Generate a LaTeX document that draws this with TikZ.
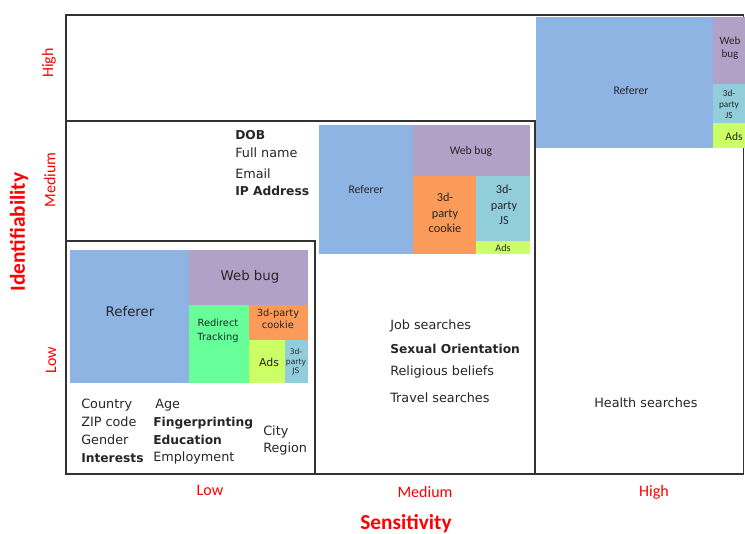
\documentclass[tikz,border=0pt]{standalone}
\usepackage{fontspec}
\setmainfont{DejaVu Sans}
\newfontfamily\calfont{Carlito}
\usetikzlibrary{positioning}
\definecolor{referer}{RGB}{141,180,226}
\definecolor{webbug}{RGB}{178,161,199}
\definecolor{cookie}{RGB}{250,155,90}
\definecolor{jsblue}{RGB}{146,205,220}
\definecolor{adsgreen}{RGB}{204,255,102}
\definecolor{redirect}{RGB}{102,255,153}

\begin{document}
\begin{tikzpicture}[
    x=0.75pt, y=-0.75pt,
    every node/.style={inner sep=0pt, text=black!85},
    item/.style={font=\fontsize{9.6}{11}\selectfont, anchor=west},
    bolditem/.style={font=\fontsize{9.2}{11}\selectfont\bfseries, anchor=west},
    tile/.style={align=center},
    axis/.style={text=red, font=\calfont\fontsize{12}{14}\selectfont},
    axistitle/.style={text=red, font=\calfont\bfseries\fontsize{16}{18}\selectfont},
    frame/.style={draw=black!80, line width=1.1pt},
]
\useasboundingbox (0,0) rectangle (745,534);
\begin{scope}
\clip (0,0) rectangle (745,534);

% ===== Low identifiability / low sensitivity =====
\fill[referer]  (70,250) rectangle (189,383);
\fill[webbug]   (189,250) rectangle (308,305);
\fill[redirect] (189,305) rectangle (249,383);
\fill[cookie]   (249,305) rectangle (308,340);
\fill[adsgreen] (249,340) rectangle (285,383);
\fill[jsblue]   (285,340) rectangle (308,383);
\node[tile, font=\fontsize{10}{12}\selectfont] (lowref) at (130,312) {Referer};
\node[tile, font=\fontsize{10}{12}\selectfont] (lowbug) at (250,277) {Web bug};
\node[tile, font=\fontsize{7.4}{10.5}\selectfont] (lowredir) at (218,331) {Redirect\\Tracking};
\node[tile, font=\fontsize{7.4}{9}\selectfont] (lowcookie) at (278,319) {3d-party\\cookie};
\node[tile, font=\fontsize{8.2}{10}\selectfont] (lowads) at (269,362) {Ads};
\node[tile, font=\fontsize{5.7}{7}\selectfont] (lowjs) at (296,362) {3d-\\party\\JS};

\node[item] (country) at (81,405) {Country};
\node[item] (zip) at (81,422) {ZIP code};
\node[item] (gender) at (81,440) {Gender};
\node[bolditem] (interests) at (81,458) {Interests};
\node[item] (age) at (155,405) {Age};
\node[bolditem] (finger) at (153,423) {Fingerprinting};
\node[bolditem] (education) at (153,440) {Education};
\node[item] (employment) at (153,458) {Employment};
\node[item] (city) at (263,432) {City};
\node[item] (region) at (263,449) {Region};

% ===== Medium identifiability =====
\fill[referer]  (319,125) rectangle (413,254);
\fill[webbug]   (413,125) rectangle (530,176);
\fill[cookie]   (413,176) rectangle (476,254);
\fill[jsblue]   (476,176) rectangle (530,241);
\fill[adsgreen] (476,241) rectangle (530,254);
\node[tile, font=\calfont\fontsize{8.8}{10}\selectfont] (medref) at (366,190) {Referer};
\node[tile, font=\calfont\fontsize{8.8}{10}\selectfont] (medbug) at (471,151) {Web bug};
\node[tile, font=\calfont\fontsize{9.2}{11.6}\selectfont] (medcookie) at (445,213) {3d-\\party\\cookie};
\node[tile, font=\calfont\fontsize{9.2}{11.6}\selectfont] (medjs) at (504,205) {3d-\\party\\JS};
\node[tile, font=\calfont\fontsize{7.6}{9}\selectfont] (medads) at (503,248) {Ads};

\node[bolditem] (dob) at (235,135) {DOB};
\node[item] (fullname) at (235,153) {Full name};
\node[item] (email) at (235,174) {Email};
\node[bolditem] (ipaddr) at (235,191) {IP Address};

\node[item] (jobs) at (390,326) {Job searches};
\node[bolditem] (sexual) at (390,349) {Sexual Orientation};
\node[item] (religion) at (390,372) {Religious beliefs};
\node[item] (travel) at (390,398) {Travel searches};
\node[item] (health) at (594,403) {Health searches};

% ===== Frames =====
\draw[frame] (66,15) rectangle (743.5,474);
\draw[frame] (66,121) rectangle (535,474);
\draw[frame] (66,241) rectangle (315,474);

% ===== High identifiability =====
\fill[referer]  (536,17) rectangle (713,148);
\fill[webbug]   (713,17) rectangle (750,84);
\fill[jsblue]   (713,84) rectangle (750,123);
\fill[adsgreen] (713,123) rectangle (750,148);
\node[tile, font=\calfont\fontsize{8.8}{10}\selectfont] (highref) at (631,91) {Referer};
\node[tile, font=\calfont\fontsize{8.3}{9.5}\selectfont] (highbug) at (730,48) {Web\\bug};
\node[tile, font=\calfont\fontsize{6.9}{8.3}\selectfont] (highjs) at (729,104) {3d-\\party\\JS};
\node[tile, font=\calfont\fontsize{8.6}{10}\selectfont] (highads) at (734,137) {Ads};
\end{scope}

% ===== Axes =====
\node[axistitle, rotate=90] (ident) at (19,232) {Identifiability};
\node[axis, rotate=90] (idhigh) at (49,63) {High};
\node[axis, rotate=90] (idmed) at (50,180) {Medium};
\node[axis, rotate=90] (idlow) at (51,360) {Low};

\node[axis] (selow) at (210,490) {Low};
\node[axis] (semed) at (425,492) {Medium};
\node[axis] (sehigh) at (654,492) {High};
\node[axistitle] (sens) at (406,524) {Sensitivity};

\end{tikzpicture}
\end{document}
